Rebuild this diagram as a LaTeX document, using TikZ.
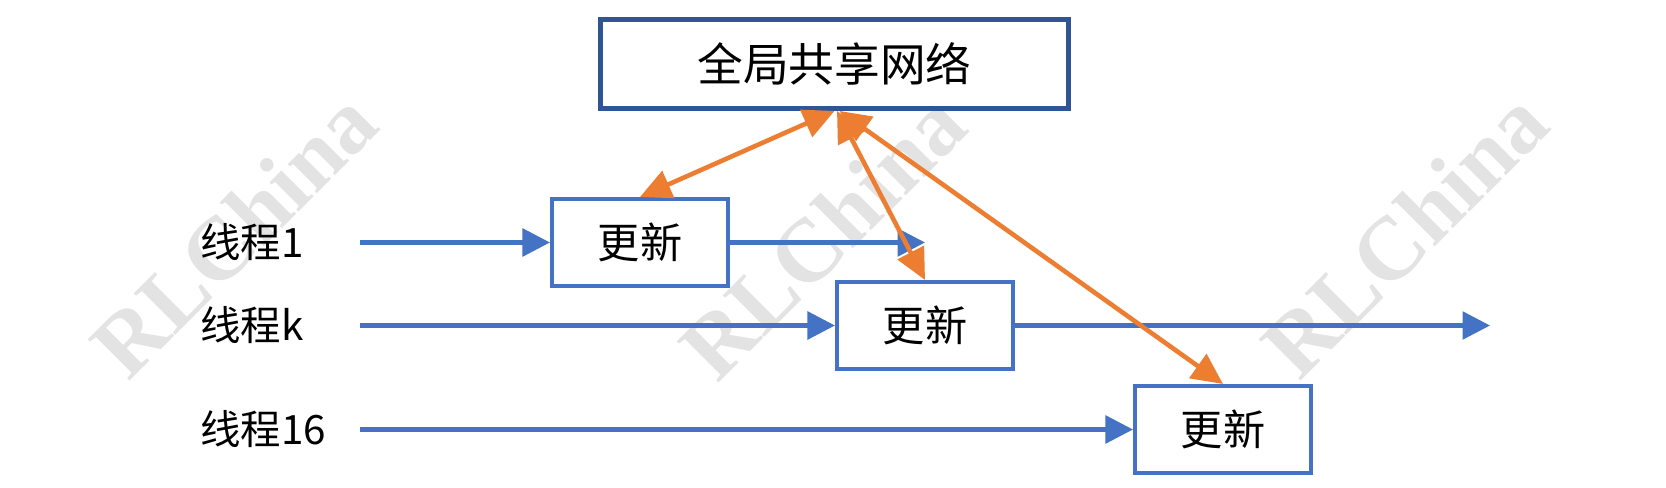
\documentclass[tikz,border=0pt]{standalone}
\usepackage{fontspec}
\setmainfont{Carlito}
\newfontfamily\cjk{Noto Sans CJK SC}
\newfontfamily\wmfont{Liberation Serif}
\usepackage{xcolor}
\usepackage{tikz}
\usetikzlibrary{arrows.meta,calc,positioning}
\definecolor{lineblue}{HTML}{4472C4}
\definecolor{boxnavy}{HTML}{2F5597}
\definecolor{syncorange}{HTML}{ED7D31}

\begin{document}
\begin{tikzpicture}[
	updbox/.style={draw=lineblue,line width=2.3pt,fill=white,minimum width=3.52cm,minimum height=1.74cm,inner sep=0pt,font=\cjk\fontsize{24}{24}\selectfont},
	flow/.style={-{Triangle[length=0.55cm,width=0.55cm]},lineblue,line width=2.4pt},
	sync/.style={{Triangle[length=0.62cm,width=0.58cm]}-{Triangle[length=0.62cm,width=0.58cm]},syncorange,line width=2.6pt},
	thread/.style={anchor=west,inner sep=0pt,font=\cjk\fontsize{23}{23}\selectfont},
	watermark/.style={rotate=45,text=gray!22,font=\wmfont\bfseries\fontsize{51}{51}\selectfont}
	]
	\useasboundingbox (0,0) rectangle (33.32,9.76);
	% watermarks
	\node[watermark] (wm1) at (4.68,5.08) {RLChina};
	\node[watermark] (wm2) at (16.46,5.04) {RLChina};
	\node[watermark] (wm3) at (28.1,5.08) {RLChina};
	% shared network and updates
	\node[draw=boxnavy,line width=2.8pt,minimum width=9.36cm,minimum height=1.78cm,font=\cjk\fontsize{26}{26}\selectfont] (net) at (16.69,8.48) {全局共享网络};
	\node[updbox] (upd1) at (12.8,4.91) {更新};
	\node[updbox] (updk) at (18.5,3.25) {更新};
	\node[updbox] (upd16) at (24.46,1.17) {更新};
	% threads
	\node[thread] (t1) at (4.0,4.91) {线程1};
	\node[thread] (tk) at (4.0,3.25) {线程k};
	\node[thread] (t16) at (4.0,1.17) {线程16};
	\coordinate (s1) at (7.2,4.91);
	\coordinate (sk) at (7.2,3.25);
	\coordinate (s16) at (7.2,1.17);
	\coordinate (e1) at (18.5,4.91);
	\coordinate (ek) at (29.8,3.25);
	\draw[flow] (s1) -- (upd1.west);
	\draw[flow] (upd1.east) -- (e1);
	\draw[flow] (sk) -- (updk.west);
	\draw[flow] (updk.east) -- (ek);
	\draw[flow] (s16) -- (upd16.west);
	% sync with the shared network
	\draw[sync] (net.south) -- (upd1.north);
	\draw[sync] ($(net.south)+(0.05,0)$) -- (updk.north);
	\draw[sync] ($(net.south)+(0.1,0)$) -- (upd16.north);
\end{tikzpicture}
\end{document}
